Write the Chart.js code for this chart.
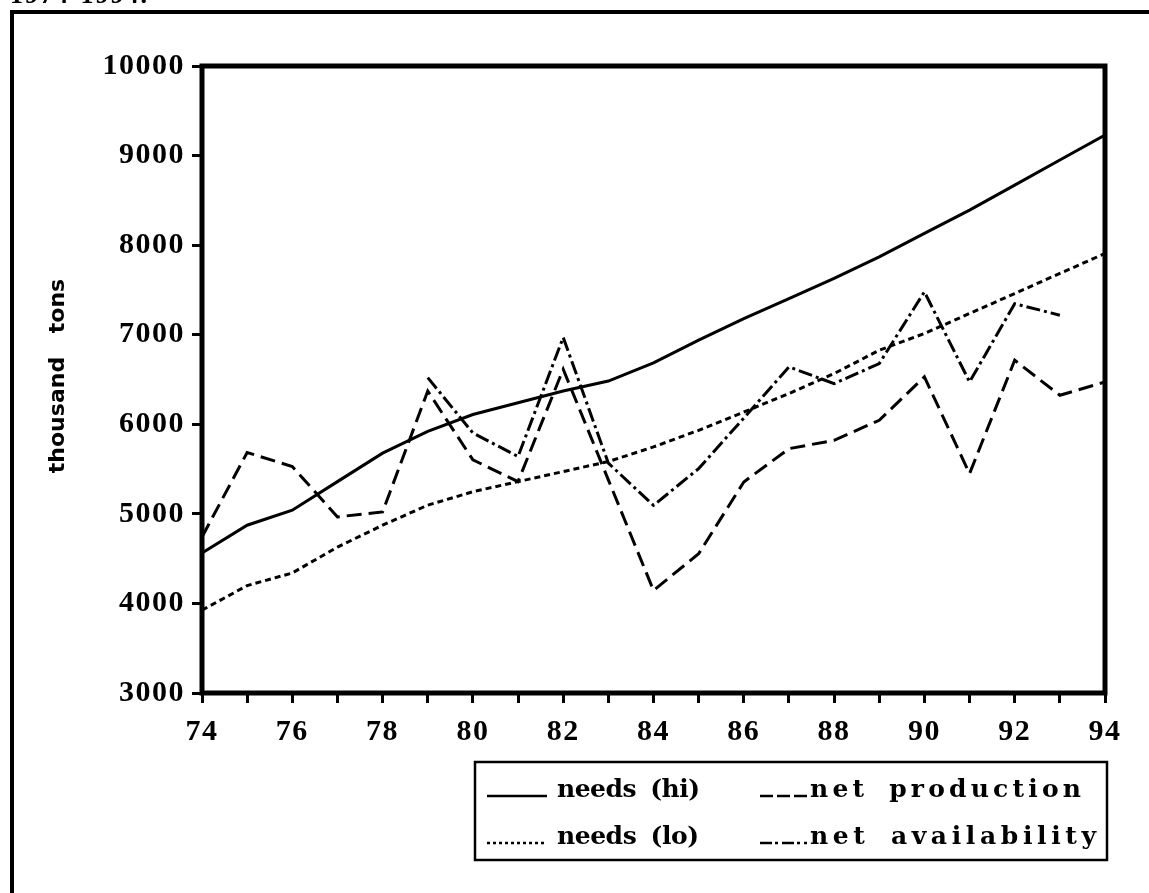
<!DOCTYPE html>
<html lang="en">
<head>
<meta charset="UTF-8">
<title>Needs and net production, 1974-1994</title>
<script src="https://cdn.jsdelivr.net/npm/chart.js"></script>
<style>
    * { margin: 0; padding: 0; box-sizing: border-box; }
    body { width: 1149px; height: 893px; overflow: hidden; background: #fff; position: relative; }
    /* outer frame runs off the right and bottom edge */
    #frame { position: absolute; left: 10px; top: 10px; width: 1200px; height: 1000px; border: 4px solid #000; }
    #chart { position: absolute; left: 0; top: 0; }
    #overlay { position: absolute; left: 0; top: 0; }
    #overlay text { font-family: "Liberation Serif", serif; font-weight: bold; fill: #000; }
    #overlay .leg { font-family: "DejaVu Serif", serif; }
</style>
</head>
<body>
<div id="frame"></div>
<canvas id="chart" width="1149" height="893"></canvas>
<svg id="overlay" width="1149" height="893">
    <text x="10" y="3" font-size="26" textLength="137" lengthAdjust="spacing">1974-1994.</text>
    <text transform="translate(64,376) rotate(-90)" text-anchor="middle" font-size="22"
          word-spacing="16" style="font-family:'DejaVu Sans'">thousand tons</text>

    <!-- legend -->
    <rect x="475" y="762" width="632" height="98" fill="none" stroke="#000" stroke-width="2.5"/>
    <line x1="487" y1="796" x2="547" y2="796" stroke="#000" stroke-width="2.5"/>
    <text class="leg" x="557" y="797" font-size="25" word-spacing="6" textLength="143" lengthAdjust="spacing">needs (hi)</text>
    <line x1="760" y1="796" x2="807" y2="796" stroke="#000" stroke-width="2.5" stroke-dasharray="13,4"/>
    <text class="leg" x="810" y="797" font-size="25" word-spacing="8" textLength="271" lengthAdjust="spacing">net production</text>
    <line x1="487" y1="843" x2="547" y2="843" stroke="#000" stroke-width="2.5" stroke-dasharray="3,3"/>
    <text class="leg" x="557" y="844" font-size="25" word-spacing="6" textLength="142" lengthAdjust="spacing">needs (lo)</text>
    <line x1="760" y1="843" x2="807" y2="843" stroke="#000" stroke-width="2.5" stroke-dasharray="12,3,3,4"/>
    <text class="leg" x="810" y="844" font-size="25" word-spacing="8" textLength="286" lengthAdjust="spacing">net availability</text>
</svg>

<script>
    // years on the x axis (19xx)
    const years = [74, 75, 76, 77, 78, 79, 80, 81, 82, 83, 84, 85, 86, 87, 88, 89, 90, 91, 92, 93, 94];

    // thousand tons
    const needsHi = [4562, 4873, 5041, 5360, 5678, 5921, 6109, 6240, 6371, 6483, 6686,
                     6939, 7180, 7404, 7628, 7870, 8131, 8391, 8670, 8950, 9229];
    const needsLo = [3925, 4199, 4340, 4629, 4873, 5097, 5247, 5360, 5472, 5584, 5747,
                     5933, 6137, 6343, 6566, 6827, 7013, 7237, 7460, 7684, 7907];
    const netProduction = [4742, 5685, 5528, 4966, 5022, 6371, 5603, 5360, 6614, 5380, 4145,
                           4555, 5356, 5728, 5821, 6045, 6529, 5449, 6715, 6324, 6473];
    const netAvailability = [null, null, null, null, null, 6521, 5903, 5640, 6970, 5566, 5095,
                             5505, 6070, 6641, 6454, 6678, 7479, 6473, 7346, 7218, null];

    const yMin = 3000, yMax = 10000, yStep = 1000;

    function pts(arr) {
        return years.map((yr, i) => ({ x: yr, y: arr[i] }));
    }

    // wider tick digits, like the original
    const spacing = {
        id: 'spacing',
        beforeDraw(chart) { chart.ctx.letterSpacing = '1.5px'; },
        afterDraw(chart) { chart.ctx.letterSpacing = '0px'; }
    };

    // thick box round the plot area
    const plotFrame = {
        id: 'plotFrame',
        afterDraw(chart) {
            const { ctx, chartArea: a } = chart;
            ctx.save();
            ctx.lineWidth = 5;
            ctx.strokeStyle = '#000';
            ctx.strokeRect(a.left, a.top, a.right - a.left, a.bottom - a.top);
            ctx.restore();
        }
    };

    Chart.defaults.font.family = '"Liberation Serif", serif';
    Chart.defaults.color = '#000';

    const tickFont = { size: 30, weight: 'bold' };
    const axisGrid = { drawOnChartArea: false, drawTicks: true, tickLength: 10, lineWidth: 3, color: '#000' };

    new Chart(document.getElementById('chart'), {
        type: 'line',
        data: {
            datasets: [
                { label: 'needs (hi)', data: pts(needsHi), borderColor: '#000', borderWidth: 3 },
                { label: 'net production', data: pts(netProduction), borderColor: '#000', borderWidth: 3, borderDash: [15, 7] },
                { label: 'needs (lo)', data: pts(needsLo), borderColor: '#000', borderWidth: 3, borderDash: [6, 4] },
                { label: 'net availability', data: pts(netAvailability), borderColor: '#000', borderWidth: 3, borderDash: [14, 4, 3, 4] }
            ]
        },
        options: {
            responsive: false,
            animation: false,
            layout: { padding: { left: 0, top: 66, right: 44, bottom: 0 } },
            plugins: { legend: { display: false }, tooltip: { enabled: false } },
            elements: {
                point: { radius: 0 },
                line: { tension: 0, borderCapStyle: 'butt', borderJoinStyle: 'miter', fill: false }
            },
            scales: {
                x: {
                    type: 'linear', min: years[0], max: years[years.length - 1],
                    afterFit(s) { s.height = 200; },
                    border: { display: false },
                    grid: axisGrid,
                    ticks: {
                        stepSize: 1, autoSkip: false, maxRotation: 0, padding: 11, font: tickFont,
                        callback: v => (v % 2 === 0 ? String(v) : '')
                    }
                },
                y: {
                    min: yMin, max: yMax,
                    afterFit(s) { s.width = 202; },
                    border: { display: false },
                    grid: axisGrid,
                    ticks: { stepSize: yStep, padding: 7, font: tickFont, callback: v => String(v) }
                }
            }
        },
        plugins: [spacing, plotFrame]
    });
</script>
</body>
</html>
